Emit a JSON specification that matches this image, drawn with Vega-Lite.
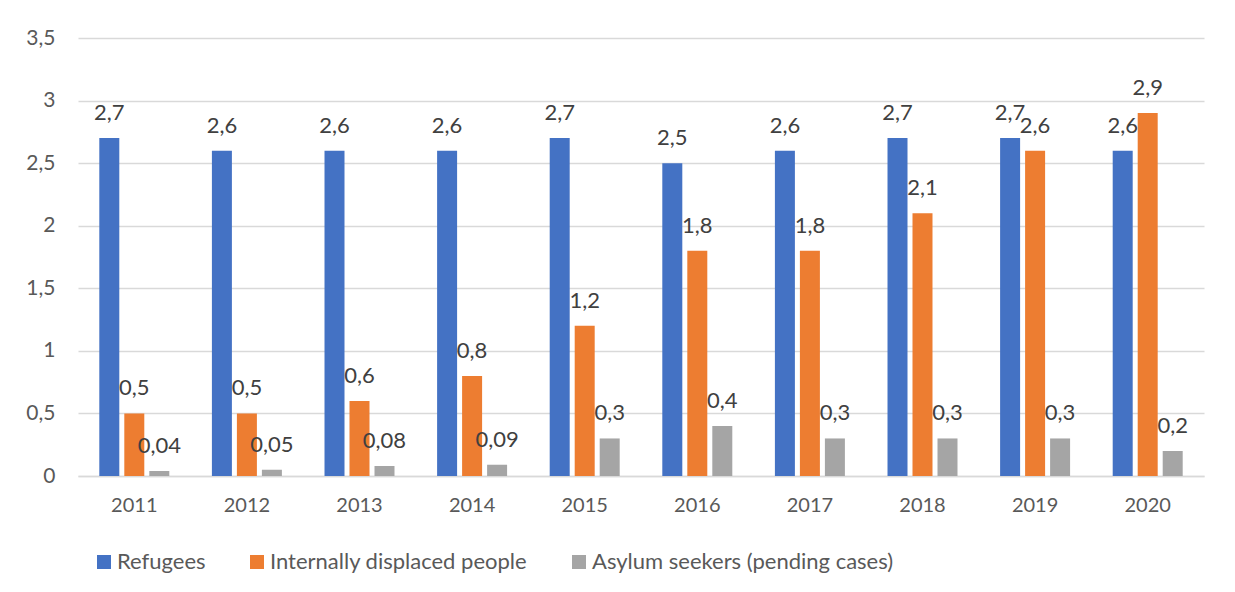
{
  "$schema": "https://vega.github.io/schema/vega-lite/v6.json",
  "width": 1126,
  "height": 438,
  "autosize": {"type": "none"},
  "padding": {"left": 78, "top": 38, "right": 31, "bottom": 116},
  "background": "white",
  "config": {
    "locale": {"number": {"decimal": ",", "thousands": ".", "grouping": [3], "currency": ["", " €"]}},
    "font": "Lato",
    "view": {"stroke": null}
  },
  "data": {
    "values": [
      {"year": "2011", "series": "Refugees", "value": 2.7},
      {"year": "2011", "series": "Internally displaced people", "value": 0.5},
      {"year": "2011", "series": "Asylum seekers (pending cases)", "value": 0.04},
      {"year": "2012", "series": "Refugees", "value": 2.6},
      {"year": "2012", "series": "Internally displaced people", "value": 0.5},
      {"year": "2012", "series": "Asylum seekers (pending cases)", "value": 0.05},
      {"year": "2013", "series": "Refugees", "value": 2.6},
      {"year": "2013", "series": "Internally displaced people", "value": 0.6},
      {"year": "2013", "series": "Asylum seekers (pending cases)", "value": 0.08},
      {"year": "2014", "series": "Refugees", "value": 2.6},
      {"year": "2014", "series": "Internally displaced people", "value": 0.8},
      {"year": "2014", "series": "Asylum seekers (pending cases)", "value": 0.09},
      {"year": "2015", "series": "Refugees", "value": 2.7},
      {"year": "2015", "series": "Internally displaced people", "value": 1.2},
      {"year": "2015", "series": "Asylum seekers (pending cases)", "value": 0.3},
      {"year": "2016", "series": "Refugees", "value": 2.5},
      {"year": "2016", "series": "Internally displaced people", "value": 1.8},
      {"year": "2016", "series": "Asylum seekers (pending cases)", "value": 0.4},
      {"year": "2017", "series": "Refugees", "value": 2.6},
      {"year": "2017", "series": "Internally displaced people", "value": 1.8},
      {"year": "2017", "series": "Asylum seekers (pending cases)", "value": 0.3},
      {"year": "2018", "series": "Refugees", "value": 2.7},
      {"year": "2018", "series": "Internally displaced people", "value": 2.1},
      {"year": "2018", "series": "Asylum seekers (pending cases)", "value": 0.3},
      {"year": "2019", "series": "Refugees", "value": 2.7},
      {"year": "2019", "series": "Internally displaced people", "value": 2.6},
      {"year": "2019", "series": "Asylum seekers (pending cases)", "value": 0.3},
      {"year": "2020", "series": "Refugees", "value": 2.6},
      {"year": "2020", "series": "Internally displaced people", "value": 2.9},
      {"year": "2020", "series": "Asylum seekers (pending cases)", "value": 0.2}
    ]
  },
  "encoding": {
    "x": {
      "field": "year", "type": "nominal", "title": null,
      "scale": {"paddingInner": 0.334, "paddingOuter": 0.167},
      "axis": {"labelAngle": 0, "labelFontSize": 20, "labelColor": "#595959", "labelPadding": 19, "ticks": false, "domain": true, "domainColor": "#D9D9D9", "domainWidth": 1.5}
    },
    "xOffset": {
      "field": "series", "type": "nominal",
      "scale": {"domain": ["Refugees", "Internally displaced people", "Asylum seekers (pending cases)"], "paddingInner": 0.2, "paddingOuter": 0.1}
    },
    "y": {
      "field": "value", "type": "quantitative", "title": null,
      "scale": {"domain": [0, 3.5], "nice": false},
      "axis": {"values": [0, 0.5, 1, 1.5, 2, 2.5, 3, 3.5], "format": ".1~f", "labelFontSize": 21, "labelColor": "#595959", "labelPadding": 23, "ticks": false, "domain": false, "gridColor": "#D9D9D9", "gridWidth": 1.5}
    }
  },
  "layer": [
    {
      "mark": {"type": "bar"},
      "encoding": {
        "color": {
          "field": "series", "type": "nominal", "title": null,
          "scale": {"domain": ["Refugees", "Internally displaced people", "Asylum seekers (pending cases)"], "range": ["#4472C4", "#ED7D31", "#A5A5A5"]},
          "legend": {"orient": "none", "legendX": 15, "legendY": 513, "direction": "horizontal", "symbolType": "square", "symbolSize": 196, "symbolStrokeWidth": 0, "symbolOpacity": 1, "labelFontSize": 22, "labelColor": "#595959", "labelOffset": 2, "columnPadding": 40, "labelLimit": 400}
        }
      }
    },
    {
      "mark": {"type": "text", "baseline": "alphabetic", "dy": -18, "fontSize": 22, "color": "#404040"},
      "encoding": {"text": {"field": "value", "type": "quantitative", "format": ".2~f"}}
    }
  ]
}
